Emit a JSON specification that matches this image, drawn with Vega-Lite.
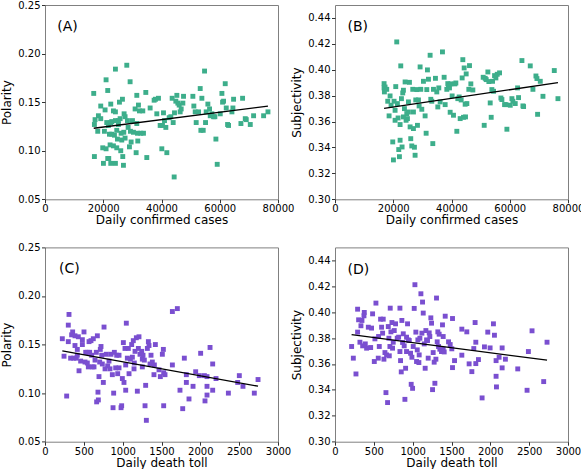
{
"$schema": "https://vega.github.io/schema/vega-lite/v6.json",
"background": "white",
"padding": {"left": 0, "top": -1, "right": 4, "bottom": 0},
"autosize": {"type": "pad"},
"datasets": {
"A": [{"cases":16730,"polarity":0.159},{"cases":16960,"polarity":0.127},{"cases":16960,"polarity":0.094},{"cases":18340,"polarity":0.136},{"cases":18110,"polarity":0.120},{"cases":19140,"polarity":0.146},{"cases":19140,"polarity":0.133},{"cases":19830,"polarity":0.103},{"cases":20060,"polarity":0.087},{"cases":20400,"polarity":0.120},{"cases":20630,"polarity":0.142},{"cases":20970,"polarity":0.173},{"cases":21200,"polarity":0.129},{"cases":21540,"polarity":0.162},{"cases":21770,"polarity":0.126},{"cases":21890,"polarity":0.092},{"cases":22350,"polarity":0.106},{"cases":22580,"polarity":0.087},{"cases":22580,"polarity":0.148},{"cases":22920,"polarity":0.117},{"cases":22920,"polarity":0.130},{"cases":23490,"polarity":0.105},{"cases":23490,"polarity":0.141},{"cases":23840,"polarity":0.116},{"cases":24180,"polarity":0.184},{"cases":24180,"polarity":0.087},{"cases":24180,"polarity":0.140},{"cases":24640,"polarity":0.121},{"cases":24870,"polarity":0.112},{"cases":25210,"polarity":0.127},{"cases":25560,"polarity":0.150},{"cases":25790,"polarity":0.133},{"cases":26010,"polarity":0.100},{"cases":26360,"polarity":0.111},{"cases":26590,"polarity":0.153},{"cases":26700,"polarity":0.094},{"cases":26930,"polarity":0.085},{"cases":27050,"polarity":0.119},{"cases":27160,"polarity":0.138},{"cases":27500,"polarity":0.113},{"cases":28080,"polarity":0.188},{"cases":28310,"polarity":0.131},{"cases":28540,"polarity":0.124},{"cases":28990,"polarity":0.104},{"cases":29220,"polarity":0.171},{"cases":29340,"polarity":0.120},{"cases":29570,"polarity":0.109},{"cases":30030,"polarity":0.131},{"cases":30370,"polarity":0.119},{"cases":30940,"polarity":0.143},{"cases":31290,"polarity":0.098},{"cases":31520,"polarity":0.157},{"cases":31740,"polarity":0.118},{"cases":31860,"polarity":0.110},{"cases":32090,"polarity":0.147},{"cases":32430,"polarity":0.141},{"cases":32890,"polarity":0.118},{"cases":33580,"polarity":0.141},{"cases":33810,"polarity":0.118},{"cases":34610,"polarity":0.160},{"cases":34950,"polarity":0.093},{"cases":36100,"polarity":0.144},{"cases":37470,"polarity":0.152},{"cases":37930,"polarity":0.153},{"cases":38390,"polarity":0.138},{"cases":38960,"polarity":0.154},{"cases":39540,"polarity":0.126},{"cases":40110,"polarity":0.102},{"cases":40340,"polarity":0.126},{"cases":40680,"polarity":0.139},{"cases":41030,"polarity":0.131},{"cases":41490,"polarity":0.124},{"cases":41830,"polarity":0.098},{"cases":42630,"polarity":0.134},{"cases":43200,"polarity":0.135},{"cases":43660,"polarity":0.154},{"cases":44010,"polarity":0.129},{"cases":44350,"polarity":0.073},{"cases":44460,"polarity":0.139},{"cases":44920,"polarity":0.151},{"cases":45270,"polarity":0.157},{"cases":45610,"polarity":0.149},{"cases":46070,"polarity":0.147},{"cases":46410,"polarity":0.140},{"cases":46760,"polarity":0.143},{"cases":47330,"polarity":0.149},{"cases":47560,"polarity":0.156},{"cases":50770,"polarity":0.156},{"cases":51110,"polarity":0.146},{"cases":51570,"polarity":0.140},{"cases":51910,"polarity":0.129},{"cases":52720,"polarity":0.140},{"cases":53290,"polarity":0.164},{"cases":53520,"polarity":0.121},{"cases":53860,"polarity":0.154},{"cases":54320,"polarity":0.121},{"cases":54780,"polarity":0.182},{"cases":55120,"polarity":0.129},{"cases":55350,"polarity":0.140},{"cases":55920,"polarity":0.148},{"cases":56500,"polarity":0.143},{"cases":56730,"polarity":0.136},{"cases":57300,"polarity":0.138},{"cases":57870,"polarity":0.135},{"cases":58330,"polarity":0.135},{"cases":58680,"polarity":0.112},{"cases":59130,"polarity":0.086},{"cases":60170,"polarity":0.138},{"cases":60740,"polarity":0.159},{"cases":60970,"polarity":0.150},{"cases":61310,"polarity":0.151},{"cases":61880,"polarity":0.169},{"cases":62230,"polarity":0.144},{"cases":62690,"polarity":0.127},{"cases":63030,"polarity":0.126},{"cases":64180,"polarity":0.140},{"cases":64520,"polarity":0.144},{"cases":64750,"polarity":0.153},{"cases":67270,"polarity":0.128},{"cases":67840,"polarity":0.154},{"cases":68760,"polarity":0.133},{"cases":69100,"polarity":0.132},{"cases":70480,"polarity":0.127},{"cases":71620,"polarity":0.136},{"cases":75060,"polarity":0.136},{"cases":76550,"polarity":0.140},{"cases":17190,"polarity":0.132},{"cases":20970,"polarity":0.102},{"cases":21540,"polarity":0.092},{"cases":22580,"polarity":0.129},{"cases":24180,"polarity":0.131},{"cases":25210,"polarity":0.131},{"cases":26130,"polarity":0.118},{"cases":27500,"polarity":0.135},{"cases":31520,"polarity":0.128},{"cases":24640,"polarity":0.103},{"cases":22120,"polarity":0.117}],
"B": [{"cases":16850,"subjectivity":0.3893},{"cases":16850,"subjectivity":0.3860},{"cases":16960,"subjectivity":0.3829},{"cases":17190,"subjectivity":0.3867},{"cases":17760,"subjectivity":0.3849},{"cases":18110,"subjectivity":0.3757},{"cases":18570,"subjectivity":0.3644},{"cases":18910,"subjectivity":0.3798},{"cases":19250,"subjectivity":0.3726},{"cases":19830,"subjectivity":0.3443},{"cases":20060,"subjectivity":0.3304},{"cases":20280,"subjectivity":0.3757},{"cases":20630,"subjectivity":0.3687},{"cases":20860,"subjectivity":0.3870},{"cases":21200,"subjectivity":0.4215},{"cases":21430,"subjectivity":0.3739},{"cases":21660,"subjectivity":0.3628},{"cases":21890,"subjectivity":0.3384},{"cases":22120,"subjectivity":0.3329},{"cases":22350,"subjectivity":0.3456},{"cases":22350,"subjectivity":0.3577},{"cases":22580,"subjectivity":0.4030},{"cases":22810,"subjectivity":0.3777},{"cases":23030,"subjectivity":0.3404},{"cases":23260,"subjectivity":0.3821},{"cases":23490,"subjectivity":0.3842},{"cases":23840,"subjectivity":0.3700},{"cases":24070,"subjectivity":0.3906},{"cases":24410,"subjectivity":0.3610},{"cases":24640,"subjectivity":0.3662},{"cases":24870,"subjectivity":0.3623},{"cases":25210,"subjectivity":0.3752},{"cases":25560,"subjectivity":0.3903},{"cases":25790,"subjectivity":0.3559},{"cases":26010,"subjectivity":0.3468},{"cases":26360,"subjectivity":0.3412},{"cases":26700,"subjectivity":0.3849},{"cases":26930,"subjectivity":0.3546},{"cases":27270,"subjectivity":0.3402},{"cases":27500,"subjectivity":0.3340},{"cases":27730,"subjectivity":0.3767},{"cases":28080,"subjectivity":0.3847},{"cases":28310,"subjectivity":0.3571},{"cases":28650,"subjectivity":0.3767},{"cases":28880,"subjectivity":0.3721},{"cases":29220,"subjectivity":0.4022},{"cases":29450,"subjectivity":0.3849},{"cases":29800,"subjectivity":0.3695},{"cases":30370,"subjectivity":0.3911},{"cases":30940,"subjectivity":0.3644},{"cases":31290,"subjectivity":0.3510},{"cases":31520,"subjectivity":0.3847},{"cases":31740,"subjectivity":0.3999},{"cases":32090,"subjectivity":0.3927},{"cases":32660,"subjectivity":0.4112},{"cases":32890,"subjectivity":0.3772},{"cases":33230,"subjectivity":0.3757},{"cases":33580,"subjectivity":0.3430},{"cases":33810,"subjectivity":0.3849},{"cases":34490,"subjectivity":0.3934},{"cases":34950,"subjectivity":0.3829},{"cases":35300,"subjectivity":0.3713},{"cases":35640,"subjectivity":0.3860},{"cases":36100,"subjectivity":0.3752},{"cases":36900,"subjectivity":0.4138},{"cases":37470,"subjectivity":0.3942},{"cases":37820,"subjectivity":0.3731},{"cases":38390,"subjectivity":0.3849},{"cases":38730,"subjectivity":0.3893},{"cases":38960,"subjectivity":0.3873},{"cases":39310,"subjectivity":0.3860},{"cases":39540,"subjectivity":0.3672},{"cases":39770,"subjectivity":0.3891},{"cases":40220,"subjectivity":0.3798},{"cases":40680,"subjectivity":0.3649},{"cases":41140,"subjectivity":0.3891},{"cases":41490,"subjectivity":0.3898},{"cases":41830,"subjectivity":0.3525},{"cases":42170,"subjectivity":0.3777},{"cases":42630,"subjectivity":0.3790},{"cases":42980,"subjectivity":0.3623},{"cases":43320,"subjectivity":0.3767},{"cases":43660,"subjectivity":0.3937},{"cases":43890,"subjectivity":0.4078},{"cases":44120,"subjectivity":0.3633},{"cases":44350,"subjectivity":0.4014},{"cases":44690,"subjectivity":0.3734},{"cases":45040,"subjectivity":0.3968},{"cases":45270,"subjectivity":0.3739},{"cases":45950,"subjectivity":0.3849},{"cases":46180,"subjectivity":0.4032},{"cases":46640,"subjectivity":0.3891},{"cases":47330,"subjectivity":0.3844},{"cases":50880,"subjectivity":0.3942},{"cases":51230,"subjectivity":0.3571},{"cases":51570,"subjectivity":0.3934},{"cases":51910,"subjectivity":0.3924},{"cases":52490,"subjectivity":0.3983},{"cases":52830,"subjectivity":0.3909},{"cases":53290,"subjectivity":0.3744},{"cases":53860,"subjectivity":0.3847},{"cases":54090,"subjectivity":0.3911},{"cases":54440,"subjectivity":0.3834},{"cases":54780,"subjectivity":0.3955},{"cases":55240,"subjectivity":0.3937},{"cases":55700,"subjectivity":0.3965},{"cases":56500,"subjectivity":0.3976},{"cases":56960,"subjectivity":0.3782},{"cases":57300,"subjectivity":0.3770},{"cases":58220,"subjectivity":0.3731},{"cases":58680,"subjectivity":0.3731},{"cases":59020,"subjectivity":0.3541},{"cases":60170,"subjectivity":0.3726},{"cases":60740,"subjectivity":0.3777},{"cases":61080,"subjectivity":0.3757},{"cases":61880,"subjectivity":0.3739},{"cases":62690,"subjectivity":0.3860},{"cases":63030,"subjectivity":0.3785},{"cases":64180,"subjectivity":0.4071},{"cases":64520,"subjectivity":0.3721},{"cases":64750,"subjectivity":0.3716},{"cases":67040,"subjectivity":0.4030},{"cases":67960,"subjectivity":0.3849},{"cases":68990,"subjectivity":0.3952},{"cases":69330,"subjectivity":0.3932},{"cases":69560,"subjectivity":0.3656},{"cases":70480,"subjectivity":0.3911},{"cases":71400,"subjectivity":0.3795},{"cases":75290,"subjectivity":0.3994},{"cases":76550,"subjectivity":0.3777},{"cases":20630,"subjectivity":0.3610},{"cases":23490,"subjectivity":0.3636},{"cases":25210,"subjectivity":0.3674},{"cases":26930,"subjectivity":0.3674},{"cases":44810,"subjectivity":0.3636},{"cases":53630,"subjectivity":0.3633}],
"C": [{"deaths":223,"polarity":0.156},{"deaths":245,"polarity":0.138},{"deaths":279,"polarity":0.097},{"deaths":300,"polarity":0.153},{"deaths":300,"polarity":0.170},{"deaths":309,"polarity":0.181},{"deaths":330,"polarity":0.136},{"deaths":343,"polarity":0.160},{"deaths":356,"polarity":0.163},{"deaths":369,"polarity":0.136},{"deaths":386,"polarity":0.149},{"deaths":386,"polarity":0.159},{"deaths":403,"polarity":0.136},{"deaths":416,"polarity":0.139},{"deaths":429,"polarity":0.158},{"deaths":438,"polarity":0.123},{"deaths":459,"polarity":0.133},{"deaths":481,"polarity":0.150},{"deaths":481,"polarity":0.155},{"deaths":502,"polarity":0.163},{"deaths":515,"polarity":0.132},{"deaths":524,"polarity":0.142},{"deaths":545,"polarity":0.142},{"deaths":558,"polarity":0.127},{"deaths":567,"polarity":0.153},{"deaths":575,"polarity":0.142},{"deaths":592,"polarity":0.154},{"deaths":601,"polarity":0.139},{"deaths":609,"polarity":0.127},{"deaths":622,"polarity":0.156},{"deaths":631,"polarity":0.127},{"deaths":644,"polarity":0.134},{"deaths":661,"polarity":0.142},{"deaths":665,"polarity":0.091},{"deaths":674,"polarity":0.159},{"deaths":682,"polarity":0.101},{"deaths":687,"polarity":0.093},{"deaths":695,"polarity":0.117},{"deaths":704,"polarity":0.132},{"deaths":712,"polarity":0.145},{"deaths":721,"polarity":0.148},{"deaths":730,"polarity":0.139},{"deaths":738,"polarity":0.130},{"deaths":751,"polarity":0.111},{"deaths":760,"polarity":0.168},{"deaths":773,"polarity":0.125},{"deaths":790,"polarity":0.140},{"deaths":807,"polarity":0.128},{"deaths":824,"polarity":0.133},{"deaths":837,"polarity":0.125},{"deaths":850,"polarity":0.140},{"deaths":867,"polarity":0.119},{"deaths":876,"polarity":0.085},{"deaths":884,"polarity":0.100},{"deaths":893,"polarity":0.142},{"deaths":910,"polarity":0.126},{"deaths":923,"polarity":0.139},{"deaths":936,"polarity":0.120},{"deaths":953,"polarity":0.126},{"deaths":979,"polarity":0.085},{"deaths":987,"polarity":0.087},{"deaths":996,"polarity":0.115},{"deaths":1009,"polarity":0.152},{"deaths":1017,"polarity":0.111},{"deaths":1030,"polarity":0.146},{"deaths":1039,"polarity":0.103},{"deaths":1047,"polarity":0.172},{"deaths":1060,"polarity":0.136},{"deaths":1073,"polarity":0.146},{"deaths":1082,"polarity":0.120},{"deaths":1099,"polarity":0.135},{"deaths":1116,"polarity":0.150},{"deaths":1125,"polarity":0.137},{"deaths":1137,"polarity":0.154},{"deaths":1150,"polarity":0.131},{"deaths":1159,"polarity":0.143},{"deaths":1176,"polarity":0.157},{"deaths":1189,"polarity":0.102},{"deaths":1202,"polarity":0.146},{"deaths":1210,"polarity":0.158},{"deaths":1223,"polarity":0.140},{"deaths":1245,"polarity":0.143},{"deaths":1253,"polarity":0.135},{"deaths":1262,"polarity":0.139},{"deaths":1279,"polarity":0.134},{"deaths":1288,"polarity":0.087},{"deaths":1296,"polarity":0.108},{"deaths":1305,"polarity":0.072},{"deaths":1318,"polarity":0.146},{"deaths":1331,"polarity":0.153},{"deaths":1339,"polarity":0.149},{"deaths":1352,"polarity":0.130},{"deaths":1365,"polarity":0.139},{"deaths":1382,"polarity":0.132},{"deaths":1403,"polarity":0.119},{"deaths":416,"polarity":0.145},{"deaths":545,"polarity":0.131},{"deaths":1039,"polarity":0.129},{"deaths":953,"polarity":0.139},{"deaths":1253,"polarity":0.127},{"deaths":1146,"polarity":0.125},{"deaths":1640,"polarity":0.184},{"deaths":1704,"polarity":0.187},{"deaths":1421,"polarity":0.150},{"deaths":1524,"polarity":0.145},{"deaths":1511,"polarity":0.140},{"deaths":1408,"polarity":0.129},{"deaths":1468,"polarity":0.124},{"deaths":1528,"polarity":0.121},{"deaths":1485,"polarity":0.117},{"deaths":1545,"polarity":0.119},{"deaths":1640,"polarity":0.129},{"deaths":1794,"polarity":0.136},{"deaths":2004,"polarity":0.141},{"deaths":2125,"polarity":0.147},{"deaths":2159,"polarity":0.130},{"deaths":1940,"polarity":0.122},{"deaths":2052,"polarity":0.118},{"deaths":2086,"polarity":0.117},{"deaths":1820,"polarity":0.119},{"deaths":1987,"polarity":0.118},{"deaths":2202,"polarity":0.115},{"deaths":1820,"polarity":0.111},{"deaths":1906,"polarity":0.107},{"deaths":2086,"polarity":0.107},{"deaths":2159,"polarity":0.103},{"deaths":1738,"polarity":0.103},{"deaths":1854,"polarity":0.094},{"deaths":2086,"polarity":0.098},{"deaths":2060,"polarity":0.092},{"deaths":1528,"polarity":0.087},{"deaths":1773,"polarity":0.084},{"deaths":2361,"polarity":0.100},{"deaths":2502,"polarity":0.118},{"deaths":2481,"polarity":0.111},{"deaths":2549,"polarity":0.107},{"deaths":2695,"polarity":0.100},{"deaths":2743,"polarity":0.114}],
"D": [{"deaths":214,"subjectivity":0.3735},{"deaths":236,"subjectivity":0.3645},{"deaths":270,"subjectivity":0.3523},{"deaths":291,"subjectivity":0.4023},{"deaths":291,"subjectivity":0.3846},{"deaths":304,"subjectivity":0.3941},{"deaths":321,"subjectivity":0.3768},{"deaths":334,"subjectivity":0.3895},{"deaths":347,"subjectivity":0.3936},{"deaths":356,"subjectivity":0.3740},{"deaths":373,"subjectivity":0.3972},{"deaths":377,"subjectivity":0.3998},{"deaths":390,"subjectivity":0.3755},{"deaths":407,"subjectivity":0.3722},{"deaths":429,"subjectivity":0.3884},{"deaths":459,"subjectivity":0.3727},{"deaths":471,"subjectivity":0.3877},{"deaths":484,"subjectivity":0.3987},{"deaths":506,"subjectivity":0.3619},{"deaths":514,"subjectivity":0.3794},{"deaths":527,"subjectivity":0.4070},{"deaths":557,"subjectivity":0.3645},{"deaths":570,"subjectivity":0.3735},{"deaths":587,"subjectivity":0.3946},{"deaths":600,"subjectivity":0.3884},{"deaths":613,"subjectivity":0.3838},{"deaths":621,"subjectivity":0.3946},{"deaths":630,"subjectivity":0.3637},{"deaths":643,"subjectivity":0.3688},{"deaths":656,"subjectivity":0.3379},{"deaths":664,"subjectivity":0.3670},{"deaths":677,"subjectivity":0.3302},{"deaths":686,"subjectivity":0.3889},{"deaths":694,"subjectivity":0.3799},{"deaths":707,"subjectivity":0.3735},{"deaths":711,"subjectivity":0.4031},{"deaths":720,"subjectivity":0.3848},{"deaths":733,"subjectivity":0.3920},{"deaths":741,"subjectivity":0.3722},{"deaths":750,"subjectivity":0.3768},{"deaths":763,"subjectivity":0.3858},{"deaths":780,"subjectivity":0.3910},{"deaths":801,"subjectivity":0.3799},{"deaths":819,"subjectivity":0.3807},{"deaths":836,"subjectivity":0.4031},{"deaths":844,"subjectivity":0.3626},{"deaths":853,"subjectivity":0.3539},{"deaths":861,"subjectivity":0.3936},{"deaths":870,"subjectivity":0.3766},{"deaths":879,"subjectivity":0.3833},{"deaths":891,"subjectivity":0.3740},{"deaths":900,"subjectivity":0.3327},{"deaths":909,"subjectivity":0.3567},{"deaths":921,"subjectivity":0.3807},{"deaths":934,"subjectivity":0.3910},{"deaths":943,"subjectivity":0.3786},{"deaths":956,"subjectivity":0.3781},{"deaths":973,"subjectivity":0.3683},{"deaths":981,"subjectivity":0.3443},{"deaths":990,"subjectivity":0.3652},{"deaths":999,"subjectivity":0.3412},{"deaths":1007,"subjectivity":0.3735},{"deaths":1020,"subjectivity":0.4029},{"deaths":1029,"subjectivity":0.4212},{"deaths":1041,"subjectivity":0.3846},{"deaths":1050,"subjectivity":0.3619},{"deaths":1059,"subjectivity":0.3709},{"deaths":1067,"subjectivity":0.3786},{"deaths":1080,"subjectivity":0.3611},{"deaths":1093,"subjectivity":0.3799},{"deaths":1106,"subjectivity":0.4142},{"deaths":1119,"subjectivity":0.3838},{"deaths":1127,"subjectivity":0.4078},{"deaths":1136,"subjectivity":0.3993},{"deaths":1149,"subjectivity":0.3755},{"deaths":1161,"subjectivity":0.3567},{"deaths":1170,"subjectivity":0.3858},{"deaths":1179,"subjectivity":0.3786},{"deaths":1191,"subjectivity":0.3781},{"deaths":1200,"subjectivity":0.3645},{"deaths":1213,"subjectivity":0.3840},{"deaths":1221,"subjectivity":0.3812},{"deaths":1234,"subjectivity":0.3956},{"deaths":1243,"subjectivity":0.3915},{"deaths":1256,"subjectivity":0.3402},{"deaths":1264,"subjectivity":0.3688},{"deaths":1277,"subjectivity":0.3614},{"deaths":1286,"subjectivity":0.3451},{"deaths":1299,"subjectivity":0.3637},{"deaths":1307,"subjectivity":0.4109},{"deaths":1316,"subjectivity":0.3771},{"deaths":1324,"subjectivity":0.3848},{"deaths":1333,"subjectivity":0.3735},{"deaths":1341,"subjectivity":0.3830},{"deaths":1350,"subjectivity":0.3714},{"deaths":1371,"subjectivity":0.3696},{"deaths":1384,"subjectivity":0.3902},{"deaths":1393,"subjectivity":0.3714},{"deaths":1406,"subjectivity":0.3693},{"deaths":561,"subjectivity":0.3812},{"deaths":699,"subjectivity":0.3663},{"deaths":836,"subjectivity":0.3696},{"deaths":921,"subjectivity":0.3696},{"deaths":1084,"subjectivity":0.3670},{"deaths":1393,"subjectivity":0.3812},{"deaths":1419,"subjectivity":0.3969},{"deaths":1513,"subjectivity":0.3951},{"deaths":1633,"subjectivity":0.3869},{"deaths":1697,"subjectivity":0.3848},{"deaths":1804,"subjectivity":0.3920},{"deaths":1967,"subjectivity":0.3846},{"deaths":2040,"subjectivity":0.3910},{"deaths":2053,"subjectivity":0.3822},{"deaths":1462,"subjectivity":0.3771},{"deaths":1483,"subjectivity":0.3750},{"deaths":1504,"subjectivity":0.3717},{"deaths":1539,"subjectivity":0.3626},{"deaths":1513,"subjectivity":0.3572},{"deaths":1633,"subjectivity":0.3668},{"deaths":1727,"subjectivity":0.3601},{"deaths":1762,"subjectivity":0.3541},{"deaths":1813,"subjectivity":0.3603},{"deaths":1847,"subjectivity":0.3634},{"deaths":1787,"subjectivity":0.3719},{"deaths":1813,"subjectivity":0.3768},{"deaths":1924,"subjectivity":0.3732},{"deaths":1997,"subjectivity":0.3724},{"deaths":2074,"subjectivity":0.3626},{"deaths":2113,"subjectivity":0.3652},{"deaths":2152,"subjectivity":0.3724},{"deaths":2152,"subjectivity":0.3570},{"deaths":2194,"subjectivity":0.3637},{"deaths":2074,"subjectivity":0.3505},{"deaths":2079,"subjectivity":0.3423},{"deaths":1894,"subjectivity":0.3338},{"deaths":2353,"subjectivity":0.3562},{"deaths":2473,"subjectivity":0.3397},{"deaths":2490,"subjectivity":0.3696},{"deaths":2537,"subjectivity":0.3856},{"deaths":2730,"subjectivity":0.3768},{"deaths":2687,"subjectivity":0.3464}]
},
"columns": 2,
"spacing": {"row": 47.4, "column": 57},
"bounds": "flush",
"concat": [
{"width": 233, "height": 194.3,
 "encoding": {
   "x": {"field": "cases", "type": "quantitative", "scale": {"domain": [0, 80000], "nice": false}, "axis": {"values": [0, 20000, 40000, 60000, 80000], "format": "d", "title": "Daily confirmed cases", "labelOverlap": false}},
   "y": {"field": "polarity", "type": "quantitative", "scale": {"domain": [0.05, 0.25], "nice": false, "zero": false}, "axis": {"values": [0.05, 0.1, 0.15, 0.2, 0.25], "format": ".2f", "title": "Polarity", "labelOverlap": false}}},
 "layer": [
 {"data": {"name": "A"}, "mark": {"type": "square", "size": 24, "color": "#3DAE8B", "opacity": 1}},
 {"data": {"name": "A"}, "transform": [{"regression": "polarity", "on": "cases"}], "mark": {"type": "line", "color": "black", "strokeWidth": 1.3}},
 {"data": {"values": [{"label": "(A)", "cases": 4200, "polarity": 0.227}]}, "mark": {"type": "text", "align": "left", "baseline": "middle", "fontSize": 14, "font": "DejaVu Sans", "color": "black"},
  "encoding": {"text": {"field": "label"}}}
]},
{"width": 233, "height": 194.3,
 "encoding": {
   "x": {"field": "cases", "type": "quantitative", "scale": {"domain": [0, 80000], "nice": false}, "axis": {"values": [0, 20000, 40000, 60000, 80000], "format": "d", "title": "Daily confirmed cases", "labelOverlap": false}},
   "y": {"field": "subjectivity", "type": "quantitative", "scale": {"domain": [0.30, 0.45], "nice": false, "zero": false}, "axis": {"values": [0.30, 0.32, 0.34, 0.36, 0.38, 0.40, 0.42, 0.44], "format": ".2f", "title": "Subjectivity", "labelOverlap": false}}},
 "layer": [
 {"data": {"name": "B"}, "mark": {"type": "square", "size": 24, "color": "#3DAE8B", "opacity": 1}},
 {"data": {"name": "B"}, "transform": [{"regression": "subjectivity", "on": "cases"}], "mark": {"type": "line", "color": "black", "strokeWidth": 1.3}},
 {"data": {"values": [{"label": "(B)", "cases": 4300, "subjectivity": 0.433}]}, "mark": {"type": "text", "align": "left", "baseline": "middle", "fontSize": 14, "font": "DejaVu Sans", "color": "black"},
  "encoding": {"text": {"field": "label"}}}
]},
{"width": 233, "height": 194.3,
 "encoding": {
   "x": {"field": "deaths", "type": "quantitative", "scale": {"domain": [0, 3000], "nice": false}, "axis": {"values": [0, 500, 1000, 1500, 2000, 2500, 3000], "format": "d", "title": "Daily death toll", "labelOverlap": false}},
   "y": {"field": "polarity", "type": "quantitative", "scale": {"domain": [0.05, 0.25], "nice": false, "zero": false}, "axis": {"values": [0.05, 0.1, 0.15, 0.2, 0.25], "format": ".2f", "title": "Polarity", "labelOverlap": false}}},
 "layer": [
 {"data": {"name": "C"}, "mark": {"type": "square", "size": 24, "color": "#7A4FD0", "opacity": 1}},
 {"data": {"name": "C"}, "transform": [{"regression": "polarity", "on": "deaths"}], "mark": {"type": "line", "color": "black", "strokeWidth": 1.3}},
 {"data": {"values": [{"label": "(C)", "deaths": 180, "polarity": 0.228}]}, "mark": {"type": "text", "align": "left", "baseline": "middle", "fontSize": 14, "font": "DejaVu Sans", "color": "black"},
  "encoding": {"text": {"field": "label"}}}
]},
{"width": 233, "height": 194.3,
 "encoding": {
   "x": {"field": "deaths", "type": "quantitative", "scale": {"domain": [0, 3000], "nice": false}, "axis": {"values": [0, 500, 1000, 1500, 2000, 2500, 3000], "format": "d", "title": "Daily death toll", "labelOverlap": false}},
   "y": {"field": "subjectivity", "type": "quantitative", "scale": {"domain": [0.30, 0.45], "nice": false, "zero": false}, "axis": {"values": [0.30, 0.32, 0.34, 0.36, 0.38, 0.40, 0.42, 0.44], "format": ".2f", "title": "Subjectivity", "labelOverlap": false}}},
 "layer": [
 {"data": {"name": "D"}, "mark": {"type": "square", "size": 24, "color": "#7A4FD0", "opacity": 1}},
 {"data": {"name": "D"}, "transform": [{"regression": "subjectivity", "on": "deaths"}], "mark": {"type": "line", "color": "black", "strokeWidth": 1.3}},
 {"data": {"values": [{"label": "(D)", "deaths": 162, "subjectivity": 0.4326}]}, "mark": {"type": "text", "align": "left", "baseline": "middle", "fontSize": 14, "font": "DejaVu Sans", "color": "black"},
  "encoding": {"text": {"field": "label"}}}
]}
],
"config": {
 "font": "DejaVu Sans",
 "view": {"stroke": "#808080", "strokeWidth": 1},
 "axis": {"domain": false, "grid": false, "ticks": true, "tickSize": 3.5, "tickColor": "#333333", "labelColor": "black", "titleColor": "black", "labelFontSize": 10, "titleFontSize": 12, "titleFontWeight": "normal", "labelPadding": 1.5, "titlePadding": 4, "labelFont": "DejaVu Sans", "titleFont": "DejaVu Sans", "labelFlush": false, "labelOverlap": false},
 "axisX": {"labelPadding": 1, "titlePadding": 1}
}
}
